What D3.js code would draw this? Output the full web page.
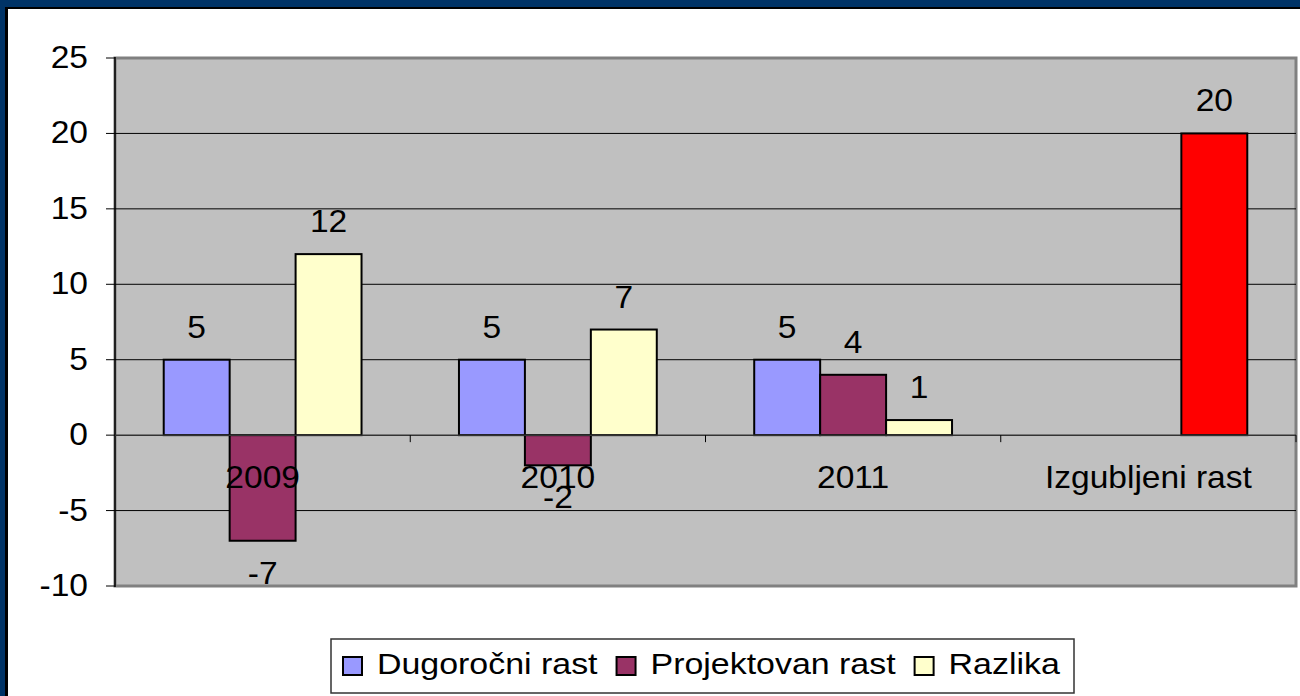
<!doctype html>
<html lang="sr">
  <head>
    <meta charset="UTF-8" />
    <title>Izgubljeni rast</title>
    <script src="https://d3js.org/d3.v7.min.js"></script>
    <style>
      body {
        margin: 0;
        padding: 0;
        background: #fff;
      }
      svg text {
        font-family: 'Liberation Sans', Arial, sans-serif;
        fill: #000;
      }
    </style>
  </head>
  <body>
    <svg id="chart" width="1300" height="696"></svg>

    <script>
      // chart data
      const categories = ['2009', '2010', '2011', 'Izgubljeni rast'];
      const seriesNames = ['Dugoročni rast', 'Projektovan rast', 'Razlika'];
      const dugorocni = [5, 5, 5, null];
      const projektovan = [-7, -2, 4, null];
      const razlika = [12, 7, 1, 20];
      const yTicks = [-10, -5, 0, 5, 10, 15, 20, 25];

      const seriesColors = ['#9999ff', '#993366', '#ffffcc'];
      const highlightColor = '#ff0000'; // last "Razlika" point

      const svg = d3.select('#chart');
      const W = 1300;
      const H = 696;

      // slide frame
      svg.append('rect').attr('width', W).attr('height', H).attr('fill', '#003366');
      svg.append('rect').attr('x', 5).attr('y', 7).attr('width', W).attr('height', H).attr('fill', '#000');
      svg.append('rect').attr('x', 8).attr('y', 9).attr('width', W).attr('height', H).attr('fill', '#fff');

      const plot = { left: 115, right: 1296, top: 58, bottom: 586 };

      const x0 = d3
        .scaleBand()
        .domain(categories)
        .range([plot.left, plot.right])
        .padding(0);

      const groupPad = x0.bandwidth() * 0.165;
      const x1 = d3
        .scaleBand()
        .domain(seriesNames)
        .range([groupPad, x0.bandwidth() - groupPad])
        .padding(0);

      const y = d3.scaleLinear().domain([-10, 25]).range([plot.bottom, plot.top]);

      // text helper: stretched Arial-like look of the original
      function label(g, str, tx, ty, size, sx, anchor) {
        return g
          .append('text')
          .attr('transform', `translate(${tx},${ty}) scale(${sx},1)`)
          .attr('text-anchor', anchor)
          .style('font-size', size + 'px')
          .text(str);
      }

      // plot area
      svg
        .append('rect')
        .attr('x', plot.left)
        .attr('y', plot.top)
        .attr('width', plot.right - plot.left)
        .attr('height', plot.bottom - plot.top)
        .attr('fill', '#c0c0c0')
        .attr('stroke', '#808080')
        .attr('stroke-width', 3);

      // gridlines
      svg
        .append('g')
        .selectAll('line')
        .data(yTicks.filter((t) => t !== 25 && t !== -10 && t !== 0))
        .enter()
        .append('line')
        .attr('x1', plot.left)
        .attr('x2', plot.right)
        .attr('y1', (d) => y(d))
        .attr('y2', (d) => y(d))
        .attr('stroke', '#000')
        .attr('stroke-width', 1);

      // y axis
      const yAxis = svg.append('g');
      yAxis
        .append('line')
        .attr('x1', plot.left)
        .attr('x2', plot.left)
        .attr('y1', plot.top - 1)
        .attr('y2', plot.bottom + 1)
        .attr('stroke', '#000')
        .attr('stroke-width', 1.5);
      yTicks.forEach(function (t) {
        yAxis
          .append('line')
          .attr('x1', plot.left - 9)
          .attr('x2', plot.left)
          .attr('y1', y(t))
          .attr('y2', y(t))
          .attr('stroke', '#000');
        label(yAxis, t, 88, y(t) + 10, 30.5, 1.1, 'end');
      });

      // bars
      const seriesData = [dugorocni, projektovan, razlika];
      const bars = svg.append('g');
      seriesData.forEach(function (values, si) {
        values.forEach(function (v, ci) {
          if (v === null) return;
          const bx = x0(categories[ci]) + x1(seriesNames[si]);
          let fill = seriesColors[si];
          if (si === 2 && ci === categories.length - 1) fill = highlightColor;
          bars
            .append('rect')
            .attr('x', bx)
            .attr('y', y(Math.max(0, v)))
            .attr('width', x1.bandwidth())
            .attr('height', Math.abs(y(v) - y(0)))
            .attr('fill', fill)
            .attr('stroke', '#000')
            .attr('stroke-width', 2);
        });
      });

      // x axis at zero
      const xAxis = svg.append('g');
      xAxis
        .append('line')
        .attr('x1', plot.left)
        .attr('x2', plot.right)
        .attr('y1', y(0))
        .attr('y2', y(0))
        .attr('stroke', '#333')
        .attr('stroke-width', 1.5);
      categories.forEach(function (c) {
        const xr = x0(c) + x0.bandwidth();
        xAxis
          .append('line')
          .attr('x1', xr)
          .attr('x2', xr)
          .attr('y1', y(0))
          .attr('y2', y(0) + 7)
          .attr('stroke', '#000');
      });

      // category labels
      categories.forEach(function (c) {
        label(xAxis, c, x0(c) + x0.bandwidth() / 2, y(0) + 53, 30.5, 1.1, 'middle');
      });

      // value labels
      const vLabels = svg.append('g');
      seriesData.forEach(function (values, si) {
        values.forEach(function (v, ci) {
          if (v === null) return;
          const cx = x0(categories[ci]) + x1(seriesNames[si]) + x1.bandwidth() / 2;
          const ty = v >= 0 ? y(v) - 22 : y(v) + 43;
          label(vLabels, v, cx, ty, 30.5, 1.1, 'middle');
        });
      });

      // legend
      const legend = svg.append('g');
      legend
        .append('rect')
        .attr('x', 331)
        .attr('y', 639)
        .attr('width', 743)
        .attr('height', 54)
        .attr('fill', '#fff')
        .attr('stroke', '#333')
        .attr('stroke-width', 1.5);
      let lx = 343;
      const lsx = 1.17;
      seriesNames.forEach(function (name, i) {
        legend
          .append('rect')
          .attr('x', lx)
          .attr('y', 657)
          .attr('width', 19)
          .attr('height', 18)
          .attr('fill', seriesColors[i])
          .attr('stroke', '#000')
          .attr('stroke-width', 2);
        const t = label(legend, name, lx + 34, 674, 29, lsx, 'start');
        const w = t.node().getComputedTextLength() * lsx;
        lx = lx + 34 + w + 19;
      });
    </script>
  </body>
</html>
